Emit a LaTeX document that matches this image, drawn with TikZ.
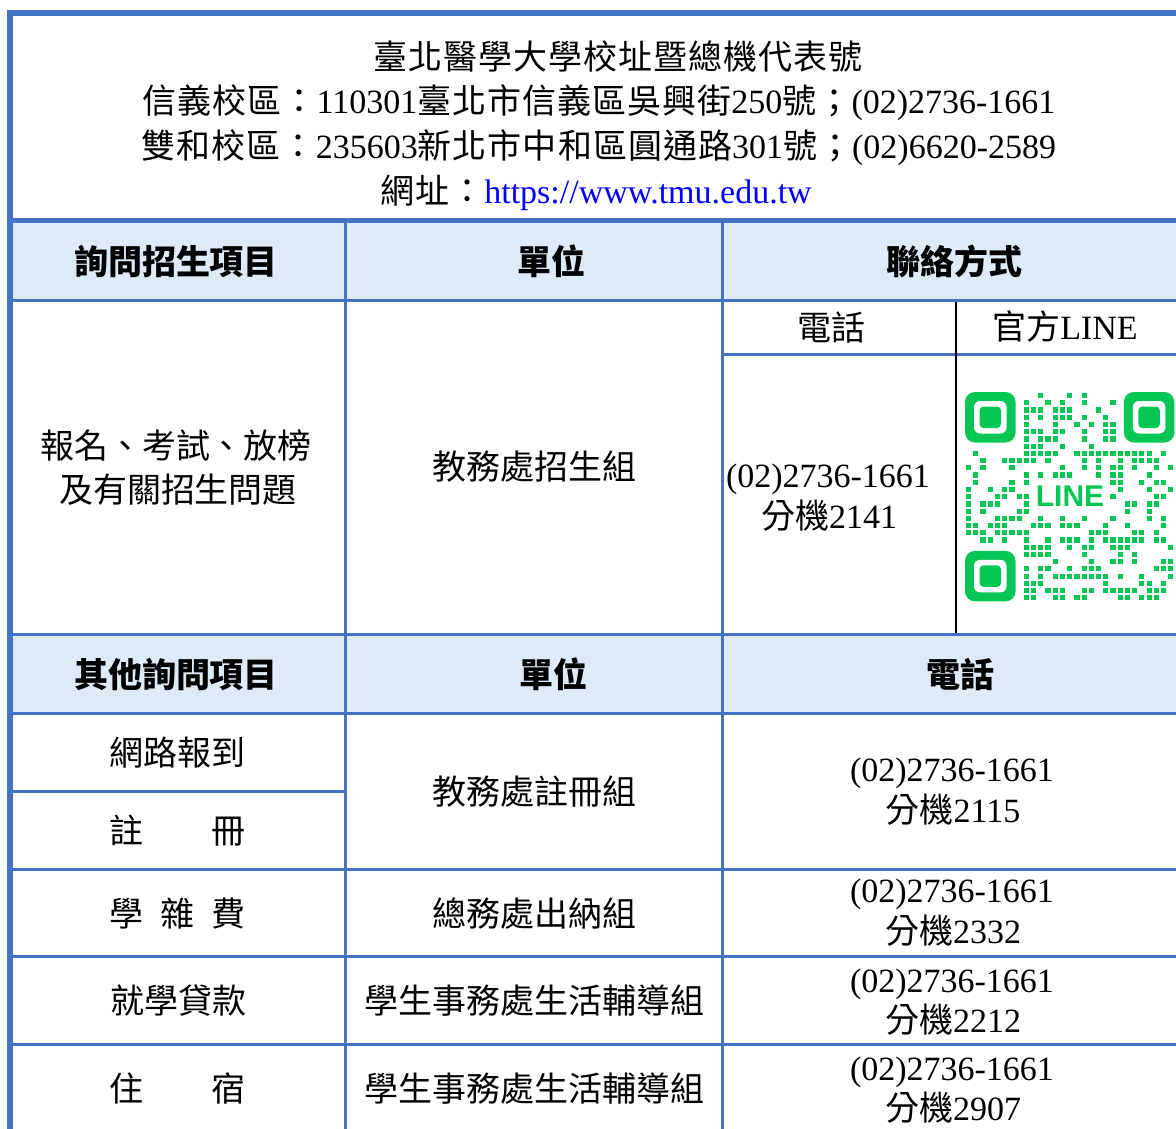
\documentclass[tikz,border=0pt]{standalone}
\usepackage{fontspec}
\setmainfont{Liberation Serif}
\newfontfamily\zhfont{Noto Sans CJK TC}
\newfontfamily\zhtitle{Noto Sans CJK TC}[LetterSpace=3]
\newfontfamily\logofont{Liberation Sans}
\newcommand\zh[1]{{\zhfont #1}}
\newcommand\zt[1]{{\zhtitle #1}}
\definecolor{tblue}{HTML}{4472C4}
\definecolor{hfill}{HTML}{DEEAF6}
\definecolor{linegreen}{HTML}{06C755}
\definecolor{urlblue}{HTML}{0000FF}
\begin{document}
\begin{tikzpicture}[x=1pt,y=-1pt,
  txt/.style={anchor=base,inner sep=0pt,font=\fontsize{34}{40}\selectfont},
  hdr/.style={anchor=base,inner sep=0pt,font=\fontsize{34}{40}\selectfont\zhfont\bfseries},
  thick rule/.style={draw=tblue,line width=3pt},
  qrdot/.style={fill=linegreen}]
\useasboundingbox (0,0) rectangle (1176,1128);
\clip (0,0) rectangle (1176,1128);
\fill[white] (0,0) rectangle (1176,1128);
% header fills
\fill[hfill] (10,220) rectangle (1190,300);
\fill[hfill] (10,634) rectangle (1190,714);
% outer border
\draw[tblue,line width=6pt,line join=miter] (10,1140) -- (10,13) -- (1190,13);
\draw[tblue,line width=5pt] (10,220.5) -- (1190,220.5);
% horizontal rules
\draw[thick rule] (10,300) -- (1190,300);
\draw[thick rule] (722,354.5) -- (1190,354.5);
\draw[thick rule] (10,634.5) -- (1190,634.5);
\draw[thick rule] (10,713.5) -- (1190,713.5);
\draw[thick rule] (10,791.5) -- (345.5,791.5);
\draw[thick rule] (10,869.5) -- (1190,869.5);
\draw[thick rule] (10,956.5) -- (1190,956.5);
\draw[thick rule] (10,1044.5) -- (1190,1044.5);
% vertical rules
\draw[thick rule] (345.5,222) -- (345.5,1140);
\draw[thick rule] (722.5,222) -- (722.5,1140);
\draw[black,line width=2pt] (955.5,301.5) -- (955.5,633);
% title
\node[txt] (t1) at (618,69) {\zt{臺北醫學大學校址暨總機代表號}};
\node[txt] (t2) at (599,113) {\zt{信義校區：}110301\zt{臺北市信義區吳興街}250\zt{號；}(02)2736-1661};
\node[txt] (t3) at (599,158) {\zt{雙和校區：}235603\zt{新北市中和區圓通路}301\zt{號；}(02)6620-2589};
\node[txt] (t4) at (596,203) {\zt{網址：}\textcolor{urlblue}{https://www.tmu.edu.tw}};
% header row 1
\node[hdr] (h1) at (176,274) {詢問招生項目};
\node[hdr] (h2) at (551,274) {單位};
\node[hdr] (h3) at (954,274) {聯絡方式};
\node[txt] (s1) at (831,340) {\zh{電話}};
\node[txt] (s2) at (1065,339) {\zh{官方}LINE};
% admissions row
\node[txt] (q1) at (176,458) {\zh{報名、考試、放榜}};
\node[txt] (q2) at (178,502) {\zh{及有關招生問題}};
\node[txt] (u1) at (534,479) {\zh{教務處招生組}};
\node[txt] (p1) at (828,487) {(02)2736-1661};
\node[txt] (p1b) at (829,528) {\zh{分機}2141};
% header row 2
\node[hdr] (h4) at (176,687) {其他詢問項目};
\node[hdr] (h5) at (553,687) {單位};
\node[hdr] (h6) at (960,687) {電話};
% other rows
\node[txt] (r1) at (177,765) {\zh{網路報到}};
\node[txt] (r2) at (177,843) {\zh{註　　冊}};
\node[txt] (r3) at (177,926) {\zh{學\hspace{17pt}雜\hspace{17pt}費}};
\node[txt] (r4) at (178,1013) {\zh{就學貸款}};
\node[txt] (r5) at (177,1101) {\zh{住　　宿}};
\node[txt] (u2) at (534,804) {\zh{教務處註冊組}};
\node[txt] (u3) at (534,926) {\zh{總務處出納組}};
\node[txt] (u4) at (534,1013) {\zh{學生事務處生活輔導組}};
\node[txt] (u5) at (534,1101) {\zh{學生事務處生活輔導組}};
\node[txt] (p2) at (952,781) {(02)2736-1661};
\node[txt] (p2b) at (953,822) {\zh{分機}2115};
\node[txt] (p3) at (952,902) {(02)2736-1661};
\node[txt] (p3b) at (953,943) {\zh{分機}2332};
\node[txt] (p4) at (952,992) {(02)2736-1661};
\node[txt] (p4b) at (953,1032) {\zh{分機}2212};
\node[txt] (p5) at (952,1080) {(02)2736-1661};
\node[txt] (p5b) at (953,1120) {\zh{分機}2907};
% QR code (LINE)
\begin{scope}[shift={(965,392)}]
  \foreach \fx/\fy in {0/0,22/0,0/22}{
    \fill[linegreen,rounded corners=10pt] ({\fx*7.22},{\fy*7.22}) rectangle ++(50.5,50.5);
    \fill[white,rounded corners=6pt] ({\fx*7.22+9},{\fy*7.22+9}) rectangle ++(32.5,32.5);
    \fill[linegreen,rounded corners=4pt] ({\fx*7.22+14.5},{\fy*7.22+14.5}) rectangle ++(21.5,21.5);
  }
  \pgfmathsetseed{4242}
  \foreach \r in {0,...,28}{
    \foreach \c in {0,...,28}{
      \pgfmathtruncatemacro{\ex}{(\r<8)*(\c<8)+(\r<8)*(\c>20)+(\r>20)*(\c<8)+(\r>11)*(\r<17)*(\c>8)*(\c<20)}
      \ifnum\ex=0
        \pgfmathrandominteger{\rv}{0}{99}
        \ifnum\rv<44
          \fill[qrdot] ({\c*7.22+1},{\r*7.22+1}) rectangle ++(5.2,5.2);
        \fi
      \fi
    }
  }
\end{scope}
\node[inner sep=0pt,text=linegreen,font=\logofont\bfseries\fontsize{30}{30}\selectfont] (logo) at (1070,496) {LINE};
\end{tikzpicture}
\end{document}
